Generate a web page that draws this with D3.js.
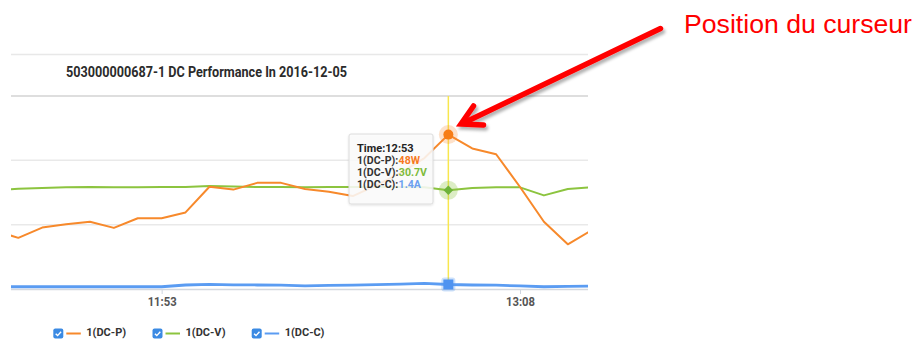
<!DOCTYPE html>
<html>
<head>
<meta charset="utf-8">
<script src="https://cdn.jsdelivr.net/npm/d3@7"></script>
<style>
  body { margin: 0; background: #fff; }
  svg { display: block; }
</style>
</head>
<body>
<svg id="chart" width="917" height="339"></svg>
<script>
// Sampling times (5-minute steps)
const times = ["11:18","11:23","11:28","11:33","11:38","11:43","11:48","11:53","11:58","12:03",
               "12:08","12:13","12:18","12:23","12:28","12:33","12:38","12:43","12:48","12:53",
               "12:58","13:03","13:08","13:13","13:18","13:23"];
// DC power (W)
const powerW = [18.2, 15.9, 19.1, 20.1, 20.9, 19.0, 22.0, 22.0, 23.8, 31.8,
                30.9, 33.0, 33.0, 31.1, 30.2, 28.9, 32.3, 36.1, 40.7, 48,
                43.7, 41.9, 31.7, 20.9, 13.9, 18.3];
// DC voltage (V)
const voltageV = [30.5, 31.2, 31.4, 31.6, 31.7, 31.6, 31.6, 31.7, 31.7, 32.0,
                  31.9, 31.7, 31.7, 31.6, 31.7, 31.7, 31.7, 31.7, 31.6, 30.7,
                  31.4, 31.6, 31.6, 29.1, 31.1, 31.6];
// DC current (A)
const currentA = [0.7, 0.7, 0.7, 0.7, 0.7, 0.7, 0.7, 0.7, 1.25, 1.45,
                  1.3, 1.25, 1.2, 1.0, 1.1, 1.2, 1.35, 1.5, 1.75, 1.4,
                  1.25, 1.2, 0.95, 0.7, 0.8, 0.9];

const tickTimes = ["11:53", "13:08"];
const gridValues = [20, 40, 60];
const seriesNames = ["1(DC-P)", "1(DC-V)", "1(DC-C)"];
const seriesUnits = ["W", "V", "A"];
const cursorTime = "12:53";
const titleText = "503000000687-1 DC Performance In 2016-12-05";
const noteText = "Position du curseur";

const colors = { p: "#f7892b", v: "#8cc43f", c: "#5b9cf2" };
const valueColors = ["#f7791f", "#7dbb3c", "#6a9ff0"];

const parse = d3.timeParse("%H:%M");
const svg = d3.select("#chart");

const plot = { left: 11, right: 588, top: 96, bottom: 289 };

const x = d3.scaleTime()
  .domain(d3.extent(times, parse))
  .range([-5.6, 591.7]);
const y = d3.scaleLinear()
  .domain([0, 60])
  .range([plot.bottom, plot.top]);

const defs = svg.append("defs");
defs.append("clipPath").attr("id", "plotClip")
  .append("rect")
  .attr("x", plot.left).attr("y", 0)
  .attr("width", plot.right - plot.left).attr("height", 339);

const shadow = defs.append("filter").attr("id", "arrowShadow")
  .attr("x", "-20%").attr("y", "-20%").attr("width", "140%").attr("height", "140%");
shadow.append("feDropShadow")
  .attr("dx", 2).attr("dy", 3).attr("stdDeviation", 1.4)
  .attr("flood-color", "#000").attr("flood-opacity", 0.3);

const boxShadow = defs.append("filter").attr("id", "boxShadow")
  .attr("x", "-10%").attr("y", "-10%").attr("width", "120%").attr("height", "120%");
boxShadow.append("feDropShadow")
  .attr("dx", 0).attr("dy", 1).attr("stdDeviation", 1)
  .attr("flood-color", "#000").attr("flood-opacity", 0.12);

// Header frame line and title
svg.append("line")
  .attr("x1", plot.left).attr("x2", plot.right)
  .attr("y1", 54.5).attr("y2", 54.5)
  .attr("stroke", "#e8e8e8").attr("stroke-width", 1.5);

svg.append("text")
  .attr("x", 66).attr("y", 77)
  .attr("font-family", "Roboto, sans-serif")
  .attr("font-weight", 700)
  .attr("font-size", 14)
  .attr("fill", "#2b2b2b")
  .attr("textLength", 281)
  .attr("lengthAdjust", "spacingAndGlyphs")
  .text(titleText);

// Horizontal grid
svg.append("g").selectAll("line")
  .data(gridValues)
  .join("line")
  .attr("x1", plot.left).attr("x2", plot.right)
  .attr("y1", d => y(d)).attr("y2", d => y(d))
  .attr("stroke", d => d === 60 ? "#dedede" : "#e9e9e9")
  .attr("stroke-width", d => d === 60 ? 2 : 1.5);

// X axis
const xAxis = svg.append("g")
  .attr("transform", `translate(0,${plot.bottom})`)
  .call(d3.axisBottom(x)
    .tickValues(tickTimes.map(parse))
    .tickFormat(d3.timeFormat("%H:%M"))
    .tickSize(5)
    .tickPadding(3));
xAxis.select(".domain").remove();
xAxis.selectAll(".tick line").attr("stroke", "#cfd6e0");
xAxis.selectAll(".tick text")
  .attr("font-family", "Roboto, sans-serif")
  .attr("font-weight", 700)
  .attr("font-size", 12.5)
  .attr("fill", "#555")
  .each(function () {
    const w = this.getComputedTextLength();
    d3.select(this).attr("textLength", w * 0.9).attr("lengthAdjust", "spacingAndGlyphs");
  });
svg.append("line")
  .attr("x1", plot.left).attr("x2", plot.right)
  .attr("y1", plot.bottom + 0.5).attr("y2", plot.bottom + 0.5)
  .attr("stroke", "#d4d8de").attr("stroke-width", 1.5);

// Series lines
const rows = times.map((t, i) => ({ t: parse(t), p: powerW[i], v: voltageV[i], c: currentA[i] }));
const lines = svg.append("g").attr("clip-path", "url(#plotClip)");
[["c", 2.8], ["v", 2], ["p", 2]].forEach(([key, w]) => {
  lines.append("path")
    .datum(rows)
    .attr("fill", "none")
    .attr("stroke", colors[key])
    .attr("stroke-width", w)
    .attr("stroke-linejoin", "round")
    .attr("d", d3.line().x(d => x(d.t)).y(d => y(d[key])));
});

// Cursor line
const ci = times.indexOf(cursorTime);
const cx = x(parse(cursorTime));
svg.append("line")
  .attr("x1", cx).attr("x2", cx)
  .attr("y1", plot.top).attr("y2", plot.bottom)
  .attr("stroke", "#f8e74e").attr("stroke-width", 1.5);

// Highlight markers at cursor
const mk = svg.append("g");
mk.append("circle").attr("cx", cx).attr("cy", y(powerW[ci])).attr("r", 9.5)
  .attr("fill", colors.p).attr("opacity", 0.25);
mk.append("circle").attr("cx", cx).attr("cy", y(powerW[ci])).attr("r", 5)
  .attr("fill", "#f77d16");
mk.append("circle").attr("cx", cx).attr("cy", y(voltageV[ci])).attr("r", 9.5)
  .attr("fill", colors.v).attr("opacity", 0.3);
mk.append("path")
  .attr("transform", `translate(${cx},${y(voltageV[ci])}) rotate(45)`)
  .attr("d", "M-3.4,-3.4H3.4V3.4H-3.4Z")
  .attr("fill", "#6db33a");
mk.append("rect")
  .attr("x", cx - 7).attr("y", y(currentA[ci]) - 7).attr("width", 14).attr("height", 14).attr("rx", 3)
  .attr("fill", colors.c).attr("opacity", 0.3);
mk.append("rect")
  .attr("x", cx - 5).attr("y", y(currentA[ci]) - 5).attr("width", 10).attr("height", 10)
  .attr("fill", "#4f93f0");

// Tooltip
const tip = svg.append("g").attr("transform", "translate(349,134)");
tip.append("rect")
  .attr("width", 84).attr("height", 70).attr("rx", 2)
  .attr("fill", "rgba(252,252,252,0.86)")
  .attr("stroke", "#dcdcdc").attr("stroke-width", 1)
  .attr("filter", "url(#boxShadow)");
const tipFont = "Roboto, sans-serif";
tip.append("text")
  .attr("x", 8).attr("y", 17.5)
  .attr("font-family", tipFont).attr("font-weight", 700).attr("font-size", 11)
  .attr("fill", "#222")
  .text("Time:" + cursorTime);
const tipValues = [powerW[ci], voltageV[ci], currentA[ci]];
seriesNames.forEach((name, i) => {
  const ty = 29.9 + i * 12.2;
  const label = tip.append("text")
    .attr("x", 8).attr("y", ty)
    .attr("font-family", tipFont).attr("font-weight", 700).attr("font-size", 10.6)
    .attr("fill", "#333")
    .text(name + ":");
  const lw = label.node().getComputedTextLength();
  tip.append("text")
    .attr("x", 8 + lw + 0.3).attr("y", ty)
    .attr("font-family", tipFont).attr("font-weight", 700).attr("font-size", 10.6)
    .attr("fill", valueColors[i])
    .text(tipValues[i] + seriesUnits[i]);
});

// Legend
const legendColors = [colors.p, colors.v, colors.c];
const legend = svg.append("g");
seriesNames.forEach((name, i) => {
  const g = legend.append("g").attr("transform", `translate(${53.3 + i * 99.2},328.5)`);
  g.append("rect").attr("width", 10).attr("height", 10).attr("rx", 2).attr("fill", "#3b8ae3");
  g.append("path").attr("d", "M2.4,5.2 L4.3,7.1 L7.8,3.2")
    .attr("fill", "none").attr("stroke", "#fff").attr("stroke-width", 1.4);
  g.append("line").attr("x1", 13).attr("x2", 27.5).attr("y1", 5).attr("y2", 5)
    .attr("stroke", legendColors[i]).attr("stroke-width", 2);
  g.append("text")
    .attr("x", 33).attr("y", 7.2)
    .attr("font-family", "Roboto, sans-serif").attr("font-weight", 700).attr("font-size", 11)
    .attr("fill", "#333")
    .text(name);
});

// Annotation
svg.append("text")
  .attr("x", 684).attr("y", 33.3)
  .attr("font-family", "'Liberation Sans', Arial, sans-serif")
  .attr("font-size", 25)
  .attr("fill", "#f00")
  .attr("textLength", 228)
  .attr("lengthAdjust", "spacingAndGlyphs")
  .text(noteText);

const arrow = svg.append("g").attr("filter", "url(#arrowShadow)");
arrow.append("line")
  .attr("x1", 660.5).attr("y1", 28.5).attr("x2", 463).attr("y2", 123.2)
  .attr("stroke", "#f00").attr("stroke-width", 5.5).attr("stroke-linecap", "round");
arrow.append("path")
  .attr("d", "M473.5,106 L461,124 L483.5,125")
  .attr("fill", "none").attr("stroke", "#f00").attr("stroke-width", 5.5)
  .attr("stroke-linecap", "round").attr("stroke-linejoin", "miter");
</script>
</body>
</html>
